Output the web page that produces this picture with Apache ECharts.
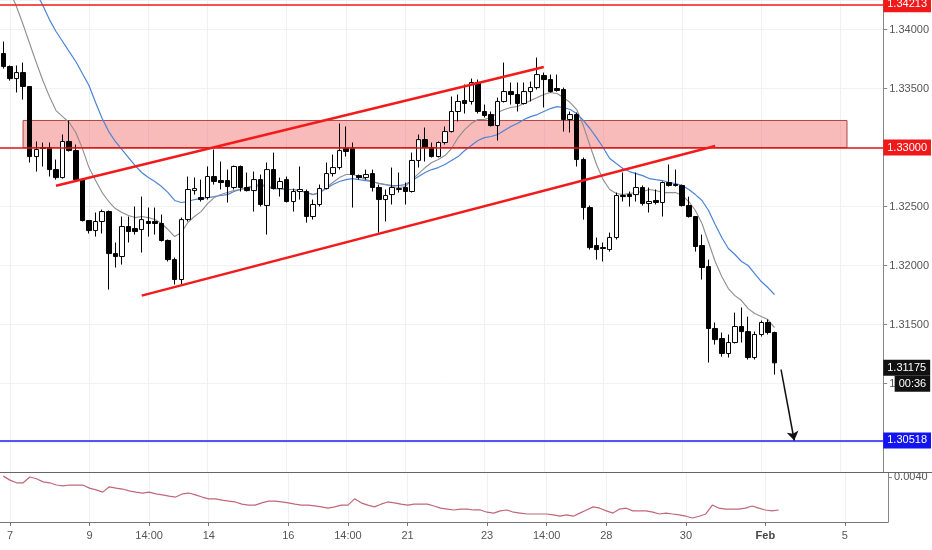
<!DOCTYPE html>
<html>
<head>
<meta charset="utf-8">
<script src="https://cdn.jsdelivr.net/npm/echarts@6/dist/echarts.min.js"></script>
<style>
html,body{margin:0;padding:0;background:#fff;}
#chart{width:932px;height:550px;}
</style>
</head>
<body>
<div id="chart"></div>
<script>
// ---- data (4h candles) ----
const slotCount = 134;
const categories = Array.from({length: slotCount}, (_, i) => String(i));
const tickIndex = [1, 13, 22, 31, 43, 52, 61, 73, 82, 91, 103, 115, 127];
const tickText = ['7', '9', '14:00', '14', '16', '14:00', '21', '23', '14:00', '28', '30', 'Feb', '5'];

const opens = [1.33796,1.33686,1.33584,1.33635,1.33517,1.32923,1.33000,1.33000,1.32813,1.32745,
1.33051,1.32974,1.32728,1.32381,1.32296,1.32373,1.32457,1.32101,1.32076,1.32330,
1.32313,1.32305,1.32373,1.32373,1.32356,1.32212,1.32050,1.31881,1.32389,1.32635,
1.32576,1.32576,1.32754,1.32720,1.32720,1.32661,1.32839,1.32661,1.32635,1.32728,
1.32508,1.32813,1.32652,1.32728,1.32542,1.32627,1.32627,1.32415,1.32517,1.32652,
1.32779,1.32830,1.32991,1.32991,1.32762,1.32745,1.32779,1.32661,1.32559,1.32601,
1.32644,1.32661,1.32627,1.32890,1.33067,1.33000,1.32923,1.33042,1.33135,1.33305,
1.33398,1.33390,1.33551,1.33305,1.33279,1.33186,1.33390,1.33474,1.33449,1.33373,
1.33474,1.33508,1.33610,1.33576,1.33500,1.33491,1.33237,1.33279,1.32898,1.32491,
1.32169,1.32152,1.32135,1.32237,1.32593,1.32601,1.32601,1.32661,1.32525,1.32551,
1.32534,1.32703,1.32686,1.32678,1.32508,1.32415,1.32169,1.31991,1.31466,1.31381,
1.31254,1.31347,1.31483,1.31440,1.31220,1.31415,1.31517,1.31432];

const closes = [1.33686,1.33584,1.33635,1.33517,1.32923,1.32983,1.32991,1.32813,1.32745,1.33051,
1.32974,1.32728,1.32381,1.32296,1.32373,1.32457,1.32101,1.32076,1.32330,1.32288,
1.32288,1.32389,1.32356,1.32356,1.32212,1.32050,1.31881,1.32389,1.32644,1.32652,
1.32559,1.32754,1.32712,1.32703,1.32669,1.32839,1.32661,1.32635,1.32728,1.32517,
1.32813,1.32652,1.32712,1.32542,1.32627,1.32644,1.32415,1.32517,1.32652,1.32779,
1.32830,1.32974,1.32966,1.32771,1.32745,1.32771,1.32661,1.32559,1.32593,1.32661,
1.32652,1.32627,1.32890,1.33067,1.33000,1.32923,1.33042,1.33135,1.33305,1.33390,
1.33373,1.33551,1.33305,1.33271,1.33186,1.33390,1.33474,1.33449,1.33373,1.33474,
1.33508,1.33618,1.33576,1.33474,1.33483,1.33237,1.33279,1.32898,1.32491,1.32152,
1.32135,1.32144,1.32237,1.32593,1.32584,1.32584,1.32661,1.32525,1.32542,1.32534,
1.32703,1.32678,1.32678,1.32508,1.32415,1.32161,1.31983,1.31466,1.31372,1.31254,
1.31347,1.31483,1.31440,1.31220,1.31415,1.31517,1.31432,1.31175];

const lows = [1.33669,1.33567,1.33466,1.33406,1.32873,1.32796,1.32839,1.32754,1.32728,1.32737,
1.32966,1.32720,1.32373,1.32271,1.32245,1.32271,1.31796,1.31983,1.32008,1.32195,
1.32262,1.32110,1.32245,1.32262,1.32203,1.32034,1.31839,1.31839,1.32373,1.32601,
1.32542,1.32559,1.32686,1.32644,1.32534,1.32644,1.32627,1.32627,1.32457,1.32500,
1.32262,1.32644,1.32584,1.32534,1.32457,1.32559,1.32364,1.32389,1.32500,1.32644,
1.32754,1.32813,1.32923,1.32491,1.32728,1.32728,1.32627,1.32279,1.32373,1.32517,
1.32618,1.32517,1.32618,1.32830,1.32881,1.32915,1.32915,1.33025,1.33127,1.33220,
1.33288,1.33364,1.33288,1.33254,1.33178,1.33059,1.33381,1.33364,1.33305,1.33364,
1.33390,1.33491,1.33339,1.33466,1.33474,1.33135,1.33127,1.32839,1.32389,1.32135,
1.32050,1.32034,1.32118,1.32220,1.32542,1.32500,1.32542,1.32508,1.32449,1.32517,
1.32415,1.32669,1.32669,1.32500,1.32406,1.32118,1.31881,1.31178,1.31330,1.31228,
1.31220,1.31339,1.31347,1.31203,1.31203,1.31398,1.31415,1.31076];

const highs = [1.33898,1.33695,1.33695,1.33720,1.33517,1.33051,1.33042,1.33042,1.32898,1.33110,
1.33229,1.33025,1.32728,1.32381,1.32449,1.32474,1.32466,1.32195,1.32415,1.32415,
1.32500,1.32584,1.32491,1.32491,1.32432,1.32220,1.32067,1.32406,1.32754,1.32745,
1.32728,1.32839,1.32983,1.32881,1.32813,1.32847,1.32847,1.32788,1.32796,1.32771,
1.32873,1.32957,1.32745,1.32754,1.32652,1.32839,1.32644,1.32559,1.32686,1.32873,
1.32940,1.33203,1.33178,1.33042,1.32771,1.32813,1.32813,1.32686,1.32644,1.32830,
1.32788,1.32703,1.32957,1.33110,1.33169,1.33042,1.33051,1.33178,1.33432,1.33449,
1.33534,1.33584,1.33576,1.33364,1.33305,1.33423,1.33720,1.33551,1.33551,1.33551,
1.33559,1.33762,1.33635,1.33618,1.33618,1.33508,1.33305,1.33296,1.32915,1.32508,
1.32237,1.32195,1.32279,1.32618,1.32788,1.32627,1.32788,1.32678,1.32661,1.32644,
1.32712,1.32856,1.32813,1.32686,1.32584,1.32415,1.32262,1.32050,1.31517,1.31432,
1.31415,1.31601,1.31644,1.31567,1.31440,1.31534,1.31542,1.31440];

const maFast = [1.34466,1.34322,1.34195,1.34042,1.33881,1.33720,1.33568,1.33432,1.33313,1.33262,
1.33212,1.33127,1.32991,1.32830,1.32720,1.32618,1.32542,1.32483,1.32449,1.32423,
1.32406,1.32415,1.32406,1.32389,1.32356,1.32305,1.32245,1.32279,1.32364,1.32415,
1.32457,1.32525,1.32576,1.32601,1.32618,1.32635,1.32644,1.32661,1.32678,1.32686,
1.32678,1.32652,1.32652,1.32644,1.32644,1.32635,1.32618,1.32601,1.32618,1.32661,
1.32703,1.32745,1.32771,1.32771,1.32754,1.32728,1.32712,1.32695,1.32686,1.32669,
1.32661,1.32669,1.32728,1.32779,1.32830,1.32873,1.32898,1.32932,1.32991,1.33084,
1.33152,1.33203,1.33237,1.33237,1.33254,1.33296,1.33322,1.33339,1.33347,1.33373,
1.33398,1.33423,1.33449,1.33466,1.33457,1.33423,1.33381,1.33322,1.33186,1.33017,
1.32856,1.32728,1.32644,1.32610,1.32601,1.32610,1.32618,1.32627,1.32644,1.32635,
1.32618,1.32618,1.32618,1.32593,1.32542,1.32466,1.32356,1.32195,1.32034,1.31906,
1.31805,1.31745,1.31703,1.31635,1.31593,1.31567,1.31542,1.31474];

const maSlow = [1.34890,1.34763,1.34652,1.34534,1.34424,1.34313,1.34203,1.34084,1.33983,1.33898,
1.33813,1.33729,1.33627,1.33525,1.33381,1.33246,1.33135,1.33051,1.32983,1.32915,
1.32847,1.32788,1.32745,1.32712,1.32669,1.32618,1.32551,1.32534,1.32542,1.32559,
1.32568,1.32576,1.32584,1.32593,1.32601,1.32627,1.32644,1.32661,1.32669,1.32678,
1.32669,1.32652,1.32652,1.32644,1.32644,1.32635,1.32618,1.32601,1.32618,1.32652,
1.32686,1.32712,1.32728,1.32737,1.32728,1.32720,1.32712,1.32695,1.32686,1.32678,
1.32678,1.32686,1.32720,1.32754,1.32788,1.32813,1.32830,1.32856,1.32890,1.32923,
1.32974,1.33017,1.33059,1.33084,1.33093,1.33110,1.33144,1.33178,1.33203,1.33237,
1.33262,1.33279,1.33305,1.33330,1.33347,1.33339,1.33322,1.33288,1.33229,1.33161,
1.33084,1.33000,1.32907,1.32864,1.32822,1.32796,1.32779,1.32762,1.32737,1.32728,
1.32720,1.32703,1.32695,1.32678,1.32644,1.32601,1.32551,1.32466,1.32347,1.32237,
1.32144,1.32093,1.32034,1.32000,1.31932,1.31864,1.31813,1.31754];

const oscillator = [0.00403,0.00394,0.00388,0.00388,0.00401,0.00397,0.00390,0.00388,0.00383,0.00381,
0.00383,0.00383,0.00383,0.00376,0.00372,0.00367,0.00379,0.00376,0.00374,0.00370,
0.00367,0.00365,0.00367,0.00363,0.00361,0.00358,0.00356,0.00363,0.00365,0.00361,
0.00356,0.00352,0.00352,0.00349,0.00347,0.00345,0.00340,0.00338,0.00338,0.00343,
0.00347,0.00347,0.00345,0.00343,0.00340,0.00338,0.00338,0.00336,0.00334,0.00331,
0.00334,0.00338,0.00338,0.00352,0.00343,0.00338,0.00334,0.00340,0.00345,0.00343,
0.00340,0.00338,0.00340,0.00340,0.00340,0.00336,0.00331,0.00329,0.00327,0.00329,
0.00329,0.00327,0.00327,0.00322,0.00320,0.00325,0.00327,0.00322,0.00320,0.00318,
0.00318,0.00318,0.00318,0.00316,0.00313,0.00316,0.00313,0.00320,0.00327,0.00334,
0.00331,0.00325,0.00320,0.00329,0.00331,0.00325,0.00325,0.00325,0.00322,0.00318,
0.00320,0.00318,0.00316,0.00313,0.00309,0.00313,0.00318,0.00338,0.00331,0.00329,
0.00329,0.00329,0.00331,0.00336,0.00331,0.00327,0.00325,0.00327];

// key levels and drawings
const resistanceTop = 1.34213;
const zoneLow = 1.33000, zoneHigh = 1.33229;
const zoneStartIdx = 3, zoneEndIdx = 128;
const targetLevel = 1.30518;
const lastPrice = 1.31175;
const countdown = '00:36';
const channelUpper = [[8, 1.32676], [82, 1.33682]];
const channelLower = [[21, 1.31744], [108, 1.33013]];
const arrowPath = [[118, 1.31118], [120, 1.30517]];

// ---- chart ----
const candleData = opens.map((o, i) => [o, closes[i], lows[i], highs[i]]);
const isTick = (idx) => tickIndex.indexOf(idx) !== -1;
const FONT = 'Liberation Sans, Arial, sans-serif';

function priceTag(color) {
  return {
    show: true, position: 'end', distance: 0,
    color: '#fff', backgroundColor: color, padding: [3, 4, 2, 4],
    fontSize: 11, fontFamily: FONT,
    formatter: (p) => Number(p.value).toFixed(5)
  };
}

const chart = echarts.init(document.getElementById('chart'), null, {renderer: 'canvas'});
chart.setOption({
  animation: false,
  backgroundColor: '#ffffff',
  grid: [
    {left: 0, right: 44, top: 0, height: 472},
    {left: 0, right: 44, top: 473, height: 49}
  ],
  xAxis: [
    {
      type: 'category', gridIndex: 0, data: categories, boundaryGap: true,
      axisLine: {show: false}, axisTick: {show: false}, axisLabel: {show: false},
      splitLine: {show: true, alignWithLabel: true, interval: (i) => isTick(i), lineStyle: {color: '#eef0f3', width: 1}}
    },
    {
      type: 'category', gridIndex: 1, data: categories, boundaryGap: true,
      axisLine: {show: true, lineStyle: {color: '#777', width: 1}},
      axisTick: {show: true, alignWithLabel: true, interval: (i) => isTick(i), length: 4, lineStyle: {color: '#777'}},
      axisLabel: {
        show: true, interval: (i) => isTick(i), margin: 8, color: '#555', fontSize: 11, fontFamily: FONT,
        formatter: (v, i) => { const t = tickText[tickIndex.indexOf(i)]; return t === 'Feb' ? '{b|Feb}' : t; },
        rich: {b: {fontWeight: 'bold', color: '#444', fontSize: 11, fontFamily: FONT}}
      },
      splitLine: {show: true, alignWithLabel: true, interval: (i) => isTick(i), lineStyle: {color: '#eef0f3', width: 1}}
    }
  ],
  yAxis: [
    {
      type: 'value', gridIndex: 0, position: 'right', scale: true,
      min: 1.3025, max: 1.3425, splitNumber: 8, minInterval: 0.005, maxInterval: 0.005,
      axisLine: {show: true, lineStyle: {color: '#888'}},
      axisTick: {show: true, length: 4, lineStyle: {color: '#888'}},
      axisLabel: {show: true, showMinLabel: false, showMaxLabel: false, margin: 6, color: '#555', fontSize: 11, fontFamily: FONT,
        formatter: (v) => v.toFixed(5)},
      splitLine: {show: true, lineStyle: {color: '#f0f2f5', width: 1}}
    },
    {
      type: 'value', gridIndex: 1, position: 'right',
      min: 0.003, max: 0.0041, minInterval: 0.001, maxInterval: 0.001,
      axisLine: {show: true, lineStyle: {color: '#888'}},
      axisTick: {show: true, length: 4, lineStyle: {color: '#888'}},
      axisLabel: {show: true, showMinLabel: false, showMaxLabel: false, margin: 6, color: '#555', fontSize: 11, fontFamily: FONT,
        formatter: (v) => v.toFixed(4)},
      splitLine: {show: false}
    }
  ],
  graphic: [
    {type: 'line', z: 100, shape: {x1: 0, y1: 472.5, x2: 932, y2: 472.5}, style: {stroke: '#666', lineWidth: 1.2}}
  ],
  series: [
    {
      name: 'MA slow', type: 'line', xAxisIndex: 0, yAxisIndex: 0, data: maSlow,
      symbol: 'none', smooth: false, lineStyle: {color: '#4a84d8', width: 1.2}, z: 2
    },
    {
      name: 'MA fast', type: 'line', xAxisIndex: 0, yAxisIndex: 0, data: maFast,
      symbol: 'none', smooth: false, lineStyle: {color: '#8e8e8e', width: 1.1}, z: 2
    },
    {
      name: 'Price', type: 'candlestick', xAxisIndex: 0, yAxisIndex: 0, data: candleData,
      barWidth: 5, z: 3,
      itemStyle: {color: '#ffffff', color0: '#000000', borderColor: '#000000', borderColor0: '#000000', borderWidth: 1},
      markArea: {
        silent: true,
        itemStyle: {color: 'rgba(243,110,110,0.48)', borderColor: '#b04545', borderWidth: 1},
        data: [[{coord: [zoneStartIdx, zoneHigh]}, {coord: [zoneEndIdx, zoneLow]}]]
      },
      markLine: {
        silent: true, symbol: ['none', 'none'], animation: false, z: 6, precision: 5,
        data: [
          {yAxis: resistanceTop, lineStyle: {color: '#f01818', width: 1.5, type: 'solid'}, label: priceTag('#f01818')},
          {yAxis: zoneLow, lineStyle: {color: '#e01414', width: 1.6, type: 'solid'}, label: priceTag('#f01818')},
          {yAxis: targetLevel, lineStyle: {color: '#1c1cf0', width: 1.5, type: 'solid'}, label: priceTag('#1414f0')},
          {yAxis: lastPrice, lineStyle: {color: 'rgba(0,0,0,0)', width: 1, type: 'solid'},
            label: {show: true, position: 'end', distance: 0, verticalAlign: 'top', offset: [0, -3],
              formatter: '{p|' + lastPrice.toFixed(5) + '}\n{t|' + countdown + '}',
              rich: {
                p: {backgroundColor: '#111', color: '#fff', padding: [3, 4, 2, 4], fontSize: 11, fontFamily: FONT},
                t: {backgroundColor: '#111', color: '#fff', padding: [3, 4, 2, 4], fontSize: 11, fontFamily: FONT, align: 'right'}
              }}},
          [{coord: channelUpper[0], lineStyle: {color: '#f21a1a', width: 2.4, type: 'solid'}, label: {show: false}},
           {coord: channelUpper[1]}],
          [{coord: channelLower[0], lineStyle: {color: '#f21a1a', width: 2.4, type: 'solid'}, label: {show: false}},
           {coord: channelLower[1]}],
          [{coord: arrowPath[0], symbol: 'none', lineStyle: {color: '#111', width: 1.5, type: 'solid'}, label: {show: false}},
           {coord: arrowPath[1], symbol: 'arrow', symbolSize: 9}]
        ]
      }
    },
    {
      name: 'Oscillator', type: 'line', xAxisIndex: 1, yAxisIndex: 1, data: oscillator,
      symbol: 'none', lineStyle: {color: '#c06878', width: 1.2}
    }
  ]
});
</script>
</body>
</html>
